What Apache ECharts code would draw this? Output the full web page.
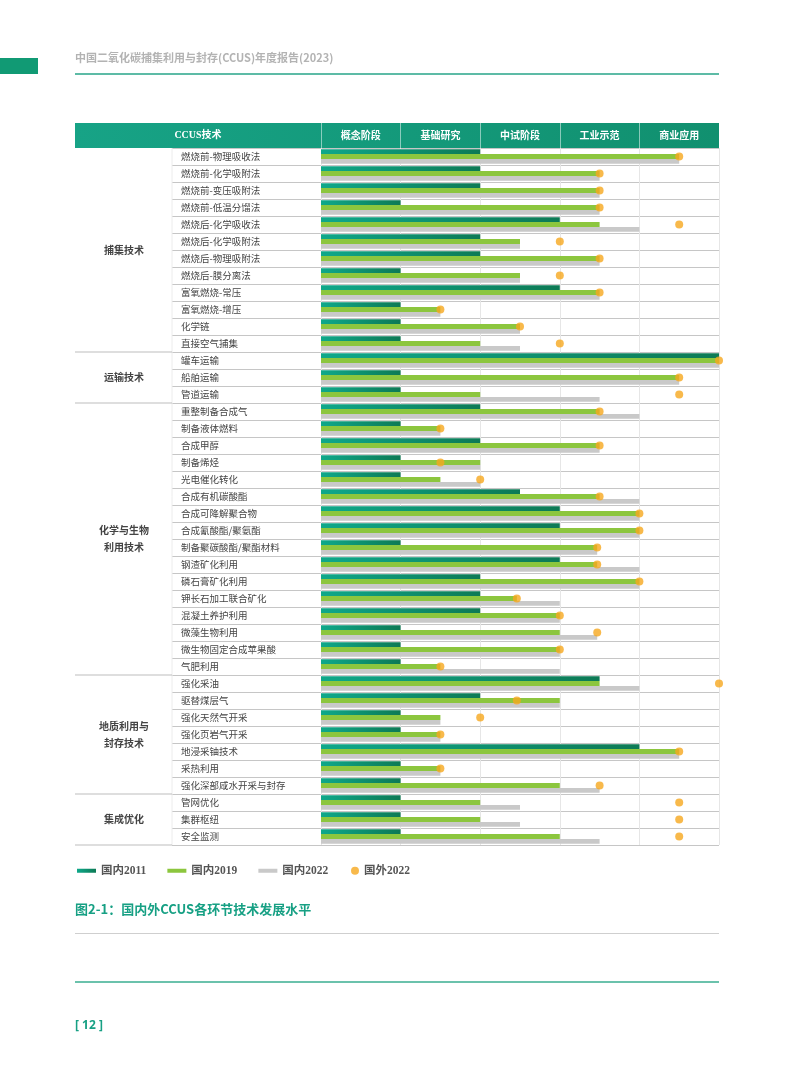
<!DOCTYPE html>
<html>
<head>
<meta charset="utf-8">
<script src="https://cdn.jsdelivr.net/npm/echarts@6/dist/echarts.min.js"></script>
<style>
html,body{margin:0;padding:0;background:#fff;}
#c{width:793px;height:1077px;}
</style>
</head>
<body>
<div id="c"></div>
<script>
const stages = ['概念阶段','基础研究','中试阶段','工业示范','商业应用'];
const categories = [
 '燃烧前-物理吸收法','燃烧前-化学吸附法','燃烧前-变压吸附法','燃烧前-低温分馏法','燃烧后-化学吸收法','燃烧后-化学吸附法','燃烧后-物理吸附法','燃烧后-膜分离法','富氧燃烧-常压','富氧燃烧-增压','化学链','直接空气捕集',
 '罐车运输','船舶运输','管道运输',
 '重整制备合成气','制备液体燃料','合成甲醇','制备烯烃','光电催化转化','合成有机碳酸酯','合成可降解聚合物','合成氰酸酯/聚氨酯','制备聚碳酸酯/聚酯材料','钢渣矿化利用','磷石膏矿化利用','钾长石加工联合矿化','混凝土养护利用','微藻生物利用','微生物固定合成苹果酸','气肥利用',
 '强化采油','驱替煤层气','强化天然气开采','强化页岩气开采','地浸采铀技术','采热利用','强化深部咸水开采与封存',
 '管网优化','集群枢纽','安全监测'
];
const groupNames = ['捕集技术','运输技术','化学与生物\n利用技术','地质利用与\n封存技术','集成优化'];
const groupSizes = [12,3,16,7,3];
const cn2011 = [2,2,2,1,3,2,2,1,3,1,1,1, 5,1,1, 2,1,2,1,1,2.5,3,3,1,3,2,2,2,1,1,1, 3.5,2,1,1,4,1,1, 1,1,1];
const cn2019 = [4.5,3.5,3.5,3.5,3.5,2.5,3.5,2.5,3.5,1.5,2.5,2, 5,4.5,2, 3.5,1.5,3.5,2,1.5,3.5,4,4,3.47,3.47,4,2.46,3,3,3,1.5, 3.5,3,1.5,1.5,4.5,1.5,3, 2,2,3];
const cn2022 = [4.5,3.5,3.5,3.5,4,2.5,3.5,2.5,3.5,1.5,2.5,2.5, 5,4.5,3.5, 4,1.5,3.5,2,2,4,4,4,3.47,4,4,3,3,3.47,3,3, 4,3,1.5,1.5,4.5,1.5,3.5, 2.5,2.5,3.5];
const intl2022 = [4.5,3.5,3.5,3.5,4.5,3,3.5,3,3.5,1.5,2.5,3, 5,4.5,4.5, 3.5,1.5,3.5,1.5,2,3.5,4,4,3.47,3.47,4,2.46,3,3.47,3,1.5, 5,2.46,2,1.5,4.5,1.5,3.5, 4.5,4.5,4.5];

const CJK = "'Noto Sans CJK SC', sans-serif";
const SERIF = "'Liberation Serif', 'Noto Sans CJK SC', serif";

const chart = echarts.init(document.getElementById('c'), null, {renderer:'canvas'});
const darkGrad = new echarts.graphic.LinearGradient(0,0,1,0,[{offset:0,color:'#0fa88a'},{offset:1,color:'#0d7a55'}]);

const option = {
  animation:false,
  textStyle:{fontFamily:CJK},
  grid:[
    {left:321, top:148, width:398, height:697},
    {left:172, top:148, width:149, height:697}
  ],
  xAxis:[
    {type:'value', gridIndex:0, min:0, max:5, interval:1,
     axisLabel:{show:false}, axisLine:{show:false}, axisTick:{show:false},
     splitLine:{show:true, lineStyle:{color:'#e6e6e6', width:1}}},
    {type:'category', gridIndex:0, position:'top', data:stages, boundaryGap:true,
     axisLine:{show:false},
     axisTick:{show:true, alignWithLabel:false, length:25, lineStyle:{color:'rgba(255,255,255,0.5)', width:1}},
     axisLabel:{color:'#fff', fontWeight:'bold', fontSize:10, margin:8, fontFamily:CJK},
     splitLine:{show:false}},
    {type:'value', gridIndex:1, show:false}
  ],
  yAxis:[
    {type:'category', gridIndex:0, data:categories, inverse:true,
     axisLabel:{show:false}, axisTick:{show:false}, axisLine:{show:false},
     splitLine:{show:true, interval:0, lineStyle:{color:'#c6c6c6', width:1}}},
    {type:'category', gridIndex:1, data:categories, inverse:true,
     axisLabel:{inside:true, margin:9, fontSize:9.5, color:'#444', fontFamily:CJK, interval:0},
     axisTick:{show:false}, axisLine:{show:false},
     splitLine:{show:true, interval:0, lineStyle:{color:'#c6c6c6', width:1}}}
  ],
  legend:[
    {data:['国内2011','国内2019','国内2022'], left:77, top:865, padding:0, icon:'rect', itemWidth:19, itemHeight:4, itemGap:21,
     textStyle:{fontSize:11.5, fontWeight:'bold', color:'#555', fontFamily:SERIF}},
    {data:['国外2022'], left:351, top:865, padding:0, icon:'circle', itemWidth:8, itemHeight:8,
     textStyle:{fontSize:11.5, fontWeight:'bold', color:'#555', fontFamily:SERIF}}
  ],
  series:[
    {name:'国内2011', type:'bar', xAxisIndex:0, yAxisIndex:0, data:cn2011, barWidth:4.8, barGap:'0%', itemStyle:{color:darkGrad}},
    {name:'国内2019', type:'bar', xAxisIndex:0, yAxisIndex:0, data:cn2019, barWidth:4.8, barGap:'0%', itemStyle:{color:'#8cc63e'}},
    {name:'国内2022', type:'bar', xAxisIndex:0, yAxisIndex:0, data:cn2022, barWidth:4.8, barGap:'0%', itemStyle:{color:'#c9c9c9'}},
    {name:'国外2022', type:'scatter', xAxisIndex:0, yAxisIndex:0, data:intl2022, symbolSize:8, clip:false, z:5, itemStyle:{color:'#f6a81e'}}
  ]
};
chart.setOption(option);

// decorations computed from the axes
const cy = i => chart.convertToPixel({yAxisIndex:0}, i);
const rowH = cy(1) - cy(0);
const xL = chart.convertToPixel({xAxisIndex:0}, 0);
const xR = chart.convertToPixel({xAxisIndex:0}, 5);
const tableTop = cy(0) - rowH/2;
const tableBot = cy(categories.length-1) + rowH/2;
const g = [];
// page header
g.push({type:'rect', shape:{x:0, y:58, width:38, height:16}, style:{fill:'#119a74'}});
g.push({type:'text', left:75, top:52, style:{text:'中国二氧化碳捕集利用与封存(CCUS)年度报告(2023)', font:"bold 11px 'Noto Sans CJK SC'", fill:'#b3b3b3'}});
g.push({type:'line', shape:{x1:75, y1:74, x2:xR, y2:74}, style:{stroke:'#27a588', lineWidth:1.5}});
// table header
g.push({type:'rect', z:-1, shape:{x:75, y:123, width:xR-75, height:tableTop-123}, style:{fill:new echarts.graphic.LinearGradient(0,0,1,0,[{offset:0,color:'#17a386'},{offset:1,color:'#11906f'}])}});
g.push({type:'text', z:10, x:(75+xL)/2, y:(123+tableTop)/2, style:{text:'CCUS技术', font:"bold 10px "+SERIF, fill:'#fff', align:'center', verticalAlign:'middle'}});
// left column divider
g.push({type:'line', shape:{x1:172, y1:tableTop, x2:172, y2:tableBot}, style:{stroke:'#ececec', lineWidth:1}});
// group separators and labels
let start = 0;
groupSizes.forEach((n, k) => {
  const top = cy(start) - rowH/2;
  const bot = cy(start+n-1) + rowH/2;
  g.push({type:'line', shape:{x1:75, y1:bot, x2:172, y2:bot}, style:{stroke:'#bdbdbd', lineWidth:1}});
  g.push({type:'text', x:124, y:(top+bot)/2, style:{text:groupNames[k], font:"bold 10px 'Noto Sans CJK SC'", fill:'#444', align:'center', verticalAlign:'middle', lineHeight:17}});
  start += n;
});
// caption
g.push({type:'text', left:75, top:903, style:{text:'图2-1：国内外CCUS各环节技术发展水平', font:"bold 13px 'Noto Sans CJK SC'", fill:'#17a084'}});
g.push({type:'line', shape:{x1:75, y1:933.5, x2:xR, y2:933.5}, style:{stroke:'#cfcfcf', lineWidth:1}});
// footer
g.push({type:'line', shape:{x1:75, y1:982, x2:xR, y2:982}, style:{stroke:'#3aae90', lineWidth:1.5}});
g.push({type:'text', left:75, top:1020, style:{text:'[ 12 ]', font:"bold 12px 'Open Sans'", fill:'#17a084'}});
chart.setOption({graphic:g});
</script>
</body>
</html>
